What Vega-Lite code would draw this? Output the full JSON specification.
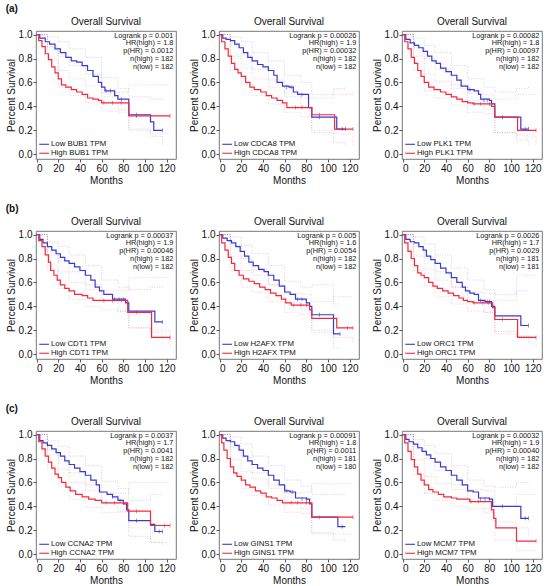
{
"$schema":"https://vega.github.io/schema/vega-lite/v6.json",
"padding":{"left":5,"top":4,"right":2,"bottom":2},
"config":{"font":"Liberation Sans","view":{"stroke":"#555","strokeWidth":0.8},
"mark":{"invalid":null},
"axis":{"labelFontSize":10,"titleFontSize":10,"titleFontWeight":"normal","labelColor":"#111","titleColor":"#111","tickColor":"#555","domain":false,"grid":false,"tickSize":3,"labelPadding":1,"titlePadding":2,"labelOverlap":false},
"title":{"fontSize":10,"fontWeight":"bold","anchor":"start","frame":"bounds","color":"#111","offset":2}},
"datasets":{"km":[
{"p":"a1","s":"L","k":"m","t":0,"v":1},{"p":"a1","s":"L","k":"m","t":3,"v":0.97},{"p":"a1","s":"L","k":"m","t":8,"v":0.94},{"p":"a1","s":"L","k":"m","t":12,"v":0.92},{"p":"a1","s":"L","k":"m","t":17,"v":0.88},{"p":"a1","s":"L","k":"m","t":22,"v":0.85},{"p":"a1","s":"L","k":"m","t":27,"v":0.81},{"p":"a1","s":"L","k":"m","t":32,"v":0.78},{"p":"a1","s":"L","k":"m","t":37,"v":0.77},{"p":"a1","s":"L","k":"m","t":42,"v":0.74},{"p":"a1","s":"L","k":"m","t":47,"v":0.7},{"p":"a1","s":"L","k":"m","t":52,"v":0.65},{"p":"a1","s":"L","k":"m","t":57,"v":0.6},{"p":"a1","s":"L","k":"m","t":60,"v":0.56},{"p":"a1","s":"L","k":"m","t":63,"v":0.53},{"p":"a1","s":"L","k":"m","t":72,"v":0.49},{"p":"a1","s":"L","k":"m","t":75,"v":0.46},{"p":"a1","s":"L","k":"m","t":85,"v":0.33},{"p":"a1","s":"L","k":"m","t":105,"v":0.27},{"p":"a1","s":"L","k":"m","t":108,"v":0.2},{"p":"a1","s":"L","k":"m","t":116,"v":0.2},
{"p":"a1","s":"H","k":"m","t":0,"v":1},{"p":"a1","s":"H","k":"m","t":2,"v":0.95},{"p":"a1","s":"H","k":"m","t":5,"v":0.9},{"p":"a1","s":"H","k":"m","t":8,"v":0.84},{"p":"a1","s":"H","k":"m","t":11,"v":0.79},{"p":"a1","s":"H","k":"m","t":14,"v":0.73},{"p":"a1","s":"H","k":"m","t":17,"v":0.68},{"p":"a1","s":"H","k":"m","t":20,"v":0.63},{"p":"a1","s":"H","k":"m","t":23,"v":0.58},{"p":"a1","s":"H","k":"m","t":27,"v":0.56},{"p":"a1","s":"H","k":"m","t":32,"v":0.54},{"p":"a1","s":"H","k":"m","t":37,"v":0.52},{"p":"a1","s":"H","k":"m","t":42,"v":0.5},{"p":"a1","s":"H","k":"m","t":47,"v":0.47},{"p":"a1","s":"H","k":"m","t":52,"v":0.46},{"p":"a1","s":"H","k":"m","t":57,"v":0.45},{"p":"a1","s":"H","k":"m","t":60,"v":0.43},{"p":"a1","s":"H","k":"m","t":85,"v":0.32},{"p":"a1","s":"H","k":"m","t":123,"v":0.32},
{"p":"a1","s":"L","k":"u","t":0,"v":1},{"p":"a1","s":"L","k":"u","t":10,"v":0.98},{"p":"a1","s":"L","k":"u","t":20,"v":0.94},{"p":"a1","s":"L","k":"u","t":30,"v":0.88},{"p":"a1","s":"L","k":"u","t":45,"v":0.81},{"p":"a1","s":"L","k":"u","t":60,"v":0.64},{"p":"a1","s":"L","k":"u","t":75,"v":0.55},{"p":"a1","s":"L","k":"u","t":85,"v":0.48},{"p":"a1","s":"L","k":"u","t":105,"v":0.46},{"p":"a1","s":"L","k":"u","t":116,"v":0.45},
{"p":"a1","s":"L","k":"l","t":0,"v":1},{"p":"a1","s":"L","k":"l","t":10,"v":0.9},{"p":"a1","s":"L","k":"l","t":20,"v":0.82},{"p":"a1","s":"L","k":"l","t":30,"v":0.74},{"p":"a1","s":"L","k":"l","t":45,"v":0.67},{"p":"a1","s":"L","k":"l","t":60,"v":0.48},{"p":"a1","s":"L","k":"l","t":75,"v":0.37},{"p":"a1","s":"L","k":"l","t":85,"v":0.21},{"p":"a1","s":"L","k":"l","t":105,"v":0.15},{"p":"a1","s":"L","k":"l","t":116,"v":0.08},
{"p":"a1","s":"H","k":"u","t":0,"v":1},{"p":"a1","s":"H","k":"u","t":10,"v":0.89},{"p":"a1","s":"H","k":"u","t":20,"v":0.7},{"p":"a1","s":"H","k":"u","t":30,"v":0.63},{"p":"a1","s":"H","k":"u","t":45,"v":0.57},{"p":"a1","s":"H","k":"u","t":60,"v":0.51},{"p":"a1","s":"H","k":"u","t":75,"v":0.52},{"p":"a1","s":"H","k":"u","t":85,"v":0.58},{"p":"a1","s":"H","k":"u","t":105,"v":0.58},{"p":"a1","s":"H","k":"u","t":123,"v":0.58},
{"p":"a1","s":"H","k":"l","t":0,"v":1},{"p":"a1","s":"H","k":"l","t":10,"v":0.79},{"p":"a1","s":"H","k":"l","t":20,"v":0.56},{"p":"a1","s":"H","k":"l","t":30,"v":0.49},{"p":"a1","s":"H","k":"l","t":45,"v":0.43},{"p":"a1","s":"H","k":"l","t":60,"v":0.36},{"p":"a1","s":"H","k":"l","t":75,"v":0.35},{"p":"a1","s":"H","k":"l","t":85,"v":0.2},{"p":"a1","s":"H","k":"l","t":105,"v":0.17},{"p":"a1","s":"H","k":"l","t":123,"v":0.17},
{"p":"a1","s":"L","k":"c","t":64,"v":0.53},{"p":"a1","s":"L","k":"c","t":68,"v":0.53},{"p":"a1","s":"L","k":"c","t":78,"v":0.46},{"p":"a1","s":"L","k":"c","t":92,"v":0.33},{"p":"a1","s":"L","k":"c","t":116,"v":0.2},
{"p":"a1","s":"H","k":"c","t":62,"v":0.43},{"p":"a1","s":"H","k":"c","t":70,"v":0.43},{"p":"a1","s":"H","k":"c","t":78,"v":0.43},{"p":"a1","s":"H","k":"c","t":92,"v":0.32},{"p":"a1","s":"H","k":"c","t":123,"v":0.32},
{"p":"a1","k":"txt","txt":"Logrank p = 0.001\nHR(high) = 1.8\np(HR) = 0.0012\nn(high) = 182\nn(low) = 182"},
{"p":"a1","s":"L","k":"leg","txt":"Low BUB1 TPM"},{"p":"a1","s":"H","k":"leg","txt":"High BUB1 TPM"},

{"p":"a2","s":"L","k":"m","t":0,"v":1},{"p":"a2","s":"L","k":"m","t":3,"v":0.97},{"p":"a2","s":"L","k":"m","t":6,"v":0.96},{"p":"a2","s":"L","k":"m","t":10,"v":0.95},{"p":"a2","s":"L","k":"m","t":14,"v":0.92},{"p":"a2","s":"L","k":"m","t":18,"v":0.89},{"p":"a2","s":"L","k":"m","t":22,"v":0.85},{"p":"a2","s":"L","k":"m","t":26,"v":0.81},{"p":"a2","s":"L","k":"m","t":30,"v":0.78},{"p":"a2","s":"L","k":"m","t":35,"v":0.75},{"p":"a2","s":"L","k":"m","t":40,"v":0.73},{"p":"a2","s":"L","k":"m","t":45,"v":0.7},{"p":"a2","s":"L","k":"m","t":50,"v":0.66},{"p":"a2","s":"L","k":"m","t":53,"v":0.6},{"p":"a2","s":"L","k":"m","t":58,"v":0.57},{"p":"a2","s":"L","k":"m","t":64,"v":0.56},{"p":"a2","s":"L","k":"m","t":68,"v":0.52},{"p":"a2","s":"L","k":"m","t":72,"v":0.5},{"p":"a2","s":"L","k":"m","t":82,"v":0.39},{"p":"a2","s":"L","k":"m","t":85,"v":0.31},{"p":"a2","s":"L","k":"m","t":108,"v":0.21},{"p":"a2","s":"L","k":"m","t":116,"v":0.21},
{"p":"a2","s":"H","k":"m","t":0,"v":1},{"p":"a2","s":"H","k":"m","t":2,"v":0.94},{"p":"a2","s":"H","k":"m","t":5,"v":0.88},{"p":"a2","s":"H","k":"m","t":8,"v":0.82},{"p":"a2","s":"H","k":"m","t":11,"v":0.76},{"p":"a2","s":"H","k":"m","t":14,"v":0.71},{"p":"a2","s":"H","k":"m","t":17,"v":0.68},{"p":"a2","s":"H","k":"m","t":20,"v":0.65},{"p":"a2","s":"H","k":"m","t":24,"v":0.6},{"p":"a2","s":"H","k":"m","t":28,"v":0.56},{"p":"a2","s":"H","k":"m","t":32,"v":0.54},{"p":"a2","s":"H","k":"m","t":38,"v":0.52},{"p":"a2","s":"H","k":"m","t":43,"v":0.49},{"p":"a2","s":"H","k":"m","t":48,"v":0.47},{"p":"a2","s":"H","k":"m","t":53,"v":0.45},{"p":"a2","s":"H","k":"m","t":58,"v":0.43},{"p":"a2","s":"H","k":"m","t":62,"v":0.39},{"p":"a2","s":"H","k":"m","t":85,"v":0.33},{"p":"a2","s":"H","k":"m","t":106,"v":0.21},{"p":"a2","s":"H","k":"m","t":123,"v":0.21},
{"p":"a2","s":"L","k":"u","t":0,"v":1},{"p":"a2","s":"L","k":"u","t":10,"v":0.98},{"p":"a2","s":"L","k":"u","t":20,"v":0.94},{"p":"a2","s":"L","k":"u","t":30,"v":0.85},{"p":"a2","s":"L","k":"u","t":45,"v":0.78},{"p":"a2","s":"L","k":"u","t":60,"v":0.66},{"p":"a2","s":"L","k":"u","t":75,"v":0.6},{"p":"a2","s":"L","k":"u","t":85,"v":0.5},{"p":"a2","s":"L","k":"u","t":105,"v":0.55},{"p":"a2","s":"L","k":"u","t":116,"v":0.56},
{"p":"a2","s":"L","k":"l","t":0,"v":1},{"p":"a2","s":"L","k":"l","t":10,"v":0.91},{"p":"a2","s":"L","k":"l","t":20,"v":0.83},{"p":"a2","s":"L","k":"l","t":30,"v":0.71},{"p":"a2","s":"L","k":"l","t":45,"v":0.62},{"p":"a2","s":"L","k":"l","t":60,"v":0.48},{"p":"a2","s":"L","k":"l","t":75,"v":0.4},{"p":"a2","s":"L","k":"l","t":85,"v":0.18},{"p":"a2","s":"L","k":"l","t":105,"v":0.1},{"p":"a2","s":"L","k":"l","t":116,"v":0.08},
{"p":"a2","s":"H","k":"u","t":0,"v":1},{"p":"a2","s":"H","k":"u","t":10,"v":0.82},{"p":"a2","s":"H","k":"u","t":20,"v":0.72},{"p":"a2","s":"H","k":"u","t":30,"v":0.63},{"p":"a2","s":"H","k":"u","t":45,"v":0.56},{"p":"a2","s":"H","k":"u","t":60,"v":0.51},{"p":"a2","s":"H","k":"u","t":75,"v":0.47},{"p":"a2","s":"H","k":"u","t":85,"v":0.47},{"p":"a2","s":"H","k":"u","t":105,"v":0.5},{"p":"a2","s":"H","k":"u","t":123,"v":0.54},
{"p":"a2","s":"H","k":"l","t":0,"v":1},{"p":"a2","s":"H","k":"l","t":10,"v":0.7},{"p":"a2","s":"H","k":"l","t":20,"v":0.58},{"p":"a2","s":"H","k":"l","t":30,"v":0.49},{"p":"a2","s":"H","k":"l","t":45,"v":0.42},{"p":"a2","s":"H","k":"l","t":60,"v":0.35},{"p":"a2","s":"H","k":"l","t":75,"v":0.31},{"p":"a2","s":"H","k":"l","t":85,"v":0.2},{"p":"a2","s":"H","k":"l","t":105,"v":0.17},{"p":"a2","s":"H","k":"l","t":123,"v":0.08},
{"p":"a2","s":"L","k":"c","t":62,"v":0.56},{"p":"a2","s":"L","k":"c","t":66,"v":0.56},{"p":"a2","s":"L","k":"c","t":76,"v":0.5},{"p":"a2","s":"L","k":"c","t":92,"v":0.31},{"p":"a2","s":"L","k":"c","t":113,"v":0.21},{"p":"a2","s":"L","k":"c","t":116,"v":0.21},
{"p":"a2","s":"H","k":"c","t":70,"v":0.39},{"p":"a2","s":"H","k":"c","t":76,"v":0.39},{"p":"a2","s":"H","k":"c","t":92,"v":0.33},{"p":"a2","s":"H","k":"c","t":123,"v":0.21},
{"p":"a2","k":"txt","txt":"Logrank p = 0.00026\nHR(high) = 1.9\np(HR) = 0.00032\nn(high) = 182\nn(low) = 182"},
{"p":"a2","s":"L","k":"leg","txt":"Low CDCA8 TPM"},{"p":"a2","s":"H","k":"leg","txt":"High CDCA8 TPM"},

{"p":"a3","s":"L","k":"m","t":0,"v":1},{"p":"a3","s":"L","k":"m","t":3,"v":0.96},{"p":"a3","s":"L","k":"m","t":7,"v":0.93},{"p":"a3","s":"L","k":"m","t":11,"v":0.91},{"p":"a3","s":"L","k":"m","t":15,"v":0.89},{"p":"a3","s":"L","k":"m","t":19,"v":0.86},{"p":"a3","s":"L","k":"m","t":23,"v":0.82},{"p":"a3","s":"L","k":"m","t":27,"v":0.78},{"p":"a3","s":"L","k":"m","t":31,"v":0.76},{"p":"a3","s":"L","k":"m","t":35,"v":0.72},{"p":"a3","s":"L","k":"m","t":40,"v":0.69},{"p":"a3","s":"L","k":"m","t":45,"v":0.66},{"p":"a3","s":"L","k":"m","t":50,"v":0.62},{"p":"a3","s":"L","k":"m","t":54,"v":0.57},{"p":"a3","s":"L","k":"m","t":60,"v":0.54},{"p":"a3","s":"L","k":"m","t":66,"v":0.53},{"p":"a3","s":"L","k":"m","t":70,"v":0.5},{"p":"a3","s":"L","k":"m","t":72,"v":0.46},{"p":"a3","s":"L","k":"m","t":80,"v":0.45},{"p":"a3","s":"L","k":"m","t":82,"v":0.42},{"p":"a3","s":"L","k":"m","t":85,"v":0.31},{"p":"a3","s":"L","k":"m","t":109,"v":0.21},{"p":"a3","s":"L","k":"m","t":116,"v":0.21},
{"p":"a3","s":"H","k":"m","t":0,"v":1},{"p":"a3","s":"H","k":"m","t":2,"v":0.94},{"p":"a3","s":"H","k":"m","t":5,"v":0.88},{"p":"a3","s":"H","k":"m","t":8,"v":0.81},{"p":"a3","s":"H","k":"m","t":11,"v":0.76},{"p":"a3","s":"H","k":"m","t":14,"v":0.7},{"p":"a3","s":"H","k":"m","t":17,"v":0.65},{"p":"a3","s":"H","k":"m","t":20,"v":0.6},{"p":"a3","s":"H","k":"m","t":24,"v":0.56},{"p":"a3","s":"H","k":"m","t":29,"v":0.54},{"p":"a3","s":"H","k":"m","t":35,"v":0.52},{"p":"a3","s":"H","k":"m","t":40,"v":0.5},{"p":"a3","s":"H","k":"m","t":45,"v":0.48},{"p":"a3","s":"H","k":"m","t":50,"v":0.46},{"p":"a3","s":"H","k":"m","t":55,"v":0.44},{"p":"a3","s":"H","k":"m","t":60,"v":0.43},{"p":"a3","s":"H","k":"m","t":65,"v":0.42},{"p":"a3","s":"H","k":"m","t":82,"v":0.4},{"p":"a3","s":"H","k":"m","t":85,"v":0.31},{"p":"a3","s":"H","k":"m","t":106,"v":0.2},{"p":"a3","s":"H","k":"m","t":123,"v":0.2},
{"p":"a3","s":"L","k":"u","t":0,"v":1},{"p":"a3","s":"L","k":"u","t":10,"v":0.97},{"p":"a3","s":"L","k":"u","t":20,"v":0.91},{"p":"a3","s":"L","k":"u","t":30,"v":0.85},{"p":"a3","s":"L","k":"u","t":45,"v":0.74},{"p":"a3","s":"L","k":"u","t":60,"v":0.63},{"p":"a3","s":"L","k":"u","t":75,"v":0.56},{"p":"a3","s":"L","k":"u","t":85,"v":0.52},{"p":"a3","s":"L","k":"u","t":105,"v":0.55},{"p":"a3","s":"L","k":"u","t":116,"v":0.57},
{"p":"a3","s":"L","k":"l","t":0,"v":1},{"p":"a3","s":"L","k":"l","t":10,"v":0.89},{"p":"a3","s":"L","k":"l","t":20,"v":0.8},{"p":"a3","s":"L","k":"l","t":30,"v":0.71},{"p":"a3","s":"L","k":"l","t":45,"v":0.58},{"p":"a3","s":"L","k":"l","t":60,"v":0.45},{"p":"a3","s":"L","k":"l","t":75,"v":0.37},{"p":"a3","s":"L","k":"l","t":85,"v":0.18},{"p":"a3","s":"L","k":"l","t":105,"v":0.12},{"p":"a3","s":"L","k":"l","t":116,"v":0.08},
{"p":"a3","s":"H","k":"u","t":0,"v":1},{"p":"a3","s":"H","k":"u","t":10,"v":0.82},{"p":"a3","s":"H","k":"u","t":20,"v":0.67},{"p":"a3","s":"H","k":"u","t":30,"v":0.61},{"p":"a3","s":"H","k":"u","t":45,"v":0.55},{"p":"a3","s":"H","k":"u","t":60,"v":0.51},{"p":"a3","s":"H","k":"u","t":75,"v":0.5},{"p":"a3","s":"H","k":"u","t":85,"v":0.46},{"p":"a3","s":"H","k":"u","t":105,"v":0.5},{"p":"a3","s":"H","k":"u","t":123,"v":0.52},
{"p":"a3","s":"H","k":"l","t":0,"v":1},{"p":"a3","s":"H","k":"l","t":10,"v":0.7},{"p":"a3","s":"H","k":"l","t":20,"v":0.53},{"p":"a3","s":"H","k":"l","t":30,"v":0.47},{"p":"a3","s":"H","k":"l","t":45,"v":0.41},{"p":"a3","s":"H","k":"l","t":60,"v":0.35},{"p":"a3","s":"H","k":"l","t":75,"v":0.34},{"p":"a3","s":"H","k":"l","t":85,"v":0.18},{"p":"a3","s":"H","k":"l","t":105,"v":0.16},{"p":"a3","s":"H","k":"l","t":123,"v":0.08},
{"p":"a3","s":"L","k":"c","t":62,"v":0.54},{"p":"a3","s":"L","k":"c","t":75,"v":0.45},{"p":"a3","s":"L","k":"c","t":78,"v":0.45},{"p":"a3","s":"L","k":"c","t":92,"v":0.31},{"p":"a3","s":"L","k":"c","t":113,"v":0.21},{"p":"a3","s":"L","k":"c","t":116,"v":0.21},
{"p":"a3","s":"H","k":"c","t":66,"v":0.42},{"p":"a3","s":"H","k":"c","t":72,"v":0.42},{"p":"a3","s":"H","k":"c","t":80,"v":0.42},{"p":"a3","s":"H","k":"c","t":123,"v":0.2},
{"p":"a3","k":"txt","txt":"Logrank p = 0.00082\nHR(high) = 1.8\np(HR) = 0.00097\nn(high) = 182\nn(low) = 182"},
{"p":"a3","s":"L","k":"leg","txt":"Low PLK1 TPM"},{"p":"a3","s":"H","k":"leg","txt":"High PLK1 TPM"},

{"p":"b1","s":"L","k":"m","t":0,"v":1},{"p":"b1","s":"L","k":"m","t":3,"v":0.96},{"p":"b1","s":"L","k":"m","t":6,"v":0.93},{"p":"b1","s":"L","k":"m","t":10,"v":0.9},{"p":"b1","s":"L","k":"m","t":14,"v":0.87},{"p":"b1","s":"L","k":"m","t":18,"v":0.84},{"p":"b1","s":"L","k":"m","t":22,"v":0.81},{"p":"b1","s":"L","k":"m","t":26,"v":0.78},{"p":"b1","s":"L","k":"m","t":30,"v":0.76},{"p":"b1","s":"L","k":"m","t":35,"v":0.73},{"p":"b1","s":"L","k":"m","t":40,"v":0.7},{"p":"b1","s":"L","k":"m","t":45,"v":0.66},{"p":"b1","s":"L","k":"m","t":50,"v":0.62},{"p":"b1","s":"L","k":"m","t":54,"v":0.56},{"p":"b1","s":"L","k":"m","t":58,"v":0.53},{"p":"b1","s":"L","k":"m","t":62,"v":0.5},{"p":"b1","s":"L","k":"m","t":70,"v":0.46},{"p":"b1","s":"L","k":"m","t":82,"v":0.43},{"p":"b1","s":"L","k":"m","t":85,"v":0.36},{"p":"b1","s":"L","k":"m","t":109,"v":0.27},{"p":"b1","s":"L","k":"m","t":116,"v":0.27},
{"p":"b1","s":"H","k":"m","t":0,"v":1},{"p":"b1","s":"H","k":"m","t":2,"v":0.95},{"p":"b1","s":"H","k":"m","t":5,"v":0.9},{"p":"b1","s":"H","k":"m","t":8,"v":0.83},{"p":"b1","s":"H","k":"m","t":11,"v":0.77},{"p":"b1","s":"H","k":"m","t":13,"v":0.7},{"p":"b1","s":"H","k":"m","t":16,"v":0.66},{"p":"b1","s":"H","k":"m","t":19,"v":0.62},{"p":"b1","s":"H","k":"m","t":22,"v":0.58},{"p":"b1","s":"H","k":"m","t":26,"v":0.55},{"p":"b1","s":"H","k":"m","t":30,"v":0.53},{"p":"b1","s":"H","k":"m","t":35,"v":0.5},{"p":"b1","s":"H","k":"m","t":42,"v":0.49},{"p":"b1","s":"H","k":"m","t":47,"v":0.47},{"p":"b1","s":"H","k":"m","t":52,"v":0.45},{"p":"b1","s":"H","k":"m","t":84,"v":0.35},{"p":"b1","s":"H","k":"m","t":106,"v":0.14},{"p":"b1","s":"H","k":"m","t":123,"v":0.14},
{"p":"b1","s":"L","k":"u","t":0,"v":1},{"p":"b1","s":"L","k":"u","t":10,"v":0.94},{"p":"b1","s":"L","k":"u","t":20,"v":0.9},{"p":"b1","s":"L","k":"u","t":30,"v":0.83},{"p":"b1","s":"L","k":"u","t":45,"v":0.74},{"p":"b1","s":"L","k":"u","t":60,"v":0.62},{"p":"b1","s":"L","k":"u","t":75,"v":0.56},{"p":"b1","s":"L","k":"u","t":85,"v":0.54},{"p":"b1","s":"L","k":"u","t":105,"v":0.56},{"p":"b1","s":"L","k":"u","t":116,"v":0.55},
{"p":"b1","s":"L","k":"l","t":0,"v":1},{"p":"b1","s":"L","k":"l","t":10,"v":0.86},{"p":"b1","s":"L","k":"l","t":20,"v":0.78},{"p":"b1","s":"L","k":"l","t":30,"v":0.69},{"p":"b1","s":"L","k":"l","t":45,"v":0.58},{"p":"b1","s":"L","k":"l","t":60,"v":0.44},{"p":"b1","s":"L","k":"l","t":75,"v":0.36},{"p":"b1","s":"L","k":"l","t":85,"v":0.22},{"p":"b1","s":"L","k":"l","t":105,"v":0.18},{"p":"b1","s":"L","k":"l","t":116,"v":0.13},
{"p":"b1","s":"H","k":"u","t":0,"v":1},{"p":"b1","s":"H","k":"u","t":10,"v":0.83},{"p":"b1","s":"H","k":"u","t":20,"v":0.69},{"p":"b1","s":"H","k":"u","t":30,"v":0.6},{"p":"b1","s":"H","k":"u","t":45,"v":0.54},{"p":"b1","s":"H","k":"u","t":60,"v":0.53},{"p":"b1","s":"H","k":"u","t":75,"v":0.53},{"p":"b1","s":"H","k":"u","t":85,"v":0.64},{"p":"b1","s":"H","k":"u","t":105,"v":0.64},{"p":"b1","s":"H","k":"u","t":123,"v":0.64},
{"p":"b1","s":"H","k":"l","t":0,"v":1},{"p":"b1","s":"H","k":"l","t":10,"v":0.71},{"p":"b1","s":"H","k":"l","t":20,"v":0.55},{"p":"b1","s":"H","k":"l","t":30,"v":0.46},{"p":"b1","s":"H","k":"l","t":45,"v":0.4},{"p":"b1","s":"H","k":"l","t":60,"v":0.37},{"p":"b1","s":"H","k":"l","t":75,"v":0.36},{"p":"b1","s":"H","k":"l","t":85,"v":0.22},{"p":"b1","s":"H","k":"l","t":105,"v":0.2},{"p":"b1","s":"H","k":"l","t":123,"v":0.05},
{"p":"b1","s":"L","k":"c","t":72,"v":0.46},{"p":"b1","s":"L","k":"c","t":76,"v":0.46},{"p":"b1","s":"L","k":"c","t":80,"v":0.46},{"p":"b1","s":"L","k":"c","t":116,"v":0.27},
{"p":"b1","s":"H","k":"c","t":62,"v":0.45},{"p":"b1","s":"H","k":"c","t":70,"v":0.45},{"p":"b1","s":"H","k":"c","t":78,"v":0.45},{"p":"b1","s":"H","k":"c","t":92,"v":0.35},{"p":"b1","s":"H","k":"c","t":123,"v":0.14},
{"p":"b1","k":"txt","txt":"Logrank p = 0.00037\nHR(high) = 1.9\np(HR) = 0.00046\nn(high) = 182\nn(low) = 182"},
{"p":"b1","s":"L","k":"leg","txt":"Low CDT1 TPM"},{"p":"b1","s":"H","k":"leg","txt":"High CDT1 TPM"},

{"p":"b2","s":"L","k":"m","t":0,"v":1},{"p":"b2","s":"L","k":"m","t":3,"v":0.97},{"p":"b2","s":"L","k":"m","t":7,"v":0.95},{"p":"b2","s":"L","k":"m","t":11,"v":0.93},{"p":"b2","s":"L","k":"m","t":15,"v":0.9},{"p":"b2","s":"L","k":"m","t":19,"v":0.86},{"p":"b2","s":"L","k":"m","t":23,"v":0.82},{"p":"b2","s":"L","k":"m","t":27,"v":0.77},{"p":"b2","s":"L","k":"m","t":31,"v":0.74},{"p":"b2","s":"L","k":"m","t":36,"v":0.71},{"p":"b2","s":"L","k":"m","t":41,"v":0.69},{"p":"b2","s":"L","k":"m","t":45,"v":0.66},{"p":"b2","s":"L","k":"m","t":50,"v":0.62},{"p":"b2","s":"L","k":"m","t":55,"v":0.57},{"p":"b2","s":"L","k":"m","t":60,"v":0.52},{"p":"b2","s":"L","k":"m","t":65,"v":0.5},{"p":"b2","s":"L","k":"m","t":70,"v":0.46},{"p":"b2","s":"L","k":"m","t":80,"v":0.43},{"p":"b2","s":"L","k":"m","t":83,"v":0.4},{"p":"b2","s":"L","k":"m","t":85,"v":0.33},{"p":"b2","s":"L","k":"m","t":105,"v":0.17},{"p":"b2","s":"L","k":"m","t":111,"v":0.17},
{"p":"b2","s":"H","k":"m","t":0,"v":1},{"p":"b2","s":"H","k":"m","t":2,"v":0.93},{"p":"b2","s":"H","k":"m","t":5,"v":0.87},{"p":"b2","s":"H","k":"m","t":8,"v":0.81},{"p":"b2","s":"H","k":"m","t":11,"v":0.76},{"p":"b2","s":"H","k":"m","t":14,"v":0.7},{"p":"b2","s":"H","k":"m","t":18,"v":0.66},{"p":"b2","s":"H","k":"m","t":22,"v":0.63},{"p":"b2","s":"H","k":"m","t":27,"v":0.61},{"p":"b2","s":"H","k":"m","t":32,"v":0.59},{"p":"b2","s":"H","k":"m","t":37,"v":0.56},{"p":"b2","s":"H","k":"m","t":42,"v":0.54},{"p":"b2","s":"H","k":"m","t":47,"v":0.51},{"p":"b2","s":"H","k":"m","t":52,"v":0.49},{"p":"b2","s":"H","k":"m","t":57,"v":0.46},{"p":"b2","s":"H","k":"m","t":61,"v":0.43},{"p":"b2","s":"H","k":"m","t":66,"v":0.41},{"p":"b2","s":"H","k":"m","t":83,"v":0.37},{"p":"b2","s":"H","k":"m","t":85,"v":0.3},{"p":"b2","s":"H","k":"m","t":108,"v":0.22},{"p":"b2","s":"H","k":"m","t":123,"v":0.22},
{"p":"b2","s":"L","k":"u","t":0,"v":1},{"p":"b2","s":"L","k":"u","t":10,"v":0.98},{"p":"b2","s":"L","k":"u","t":20,"v":0.91},{"p":"b2","s":"L","k":"u","t":30,"v":0.84},{"p":"b2","s":"L","k":"u","t":45,"v":0.74},{"p":"b2","s":"L","k":"u","t":60,"v":0.61},{"p":"b2","s":"L","k":"u","t":75,"v":0.56},{"p":"b2","s":"L","k":"u","t":85,"v":0.58},{"p":"b2","s":"L","k":"u","t":105,"v":0.42},{"p":"b2","s":"L","k":"u","t":111,"v":0.42},
{"p":"b2","s":"L","k":"l","t":0,"v":1},{"p":"b2","s":"L","k":"l","t":10,"v":0.91},{"p":"b2","s":"L","k":"l","t":20,"v":0.8},{"p":"b2","s":"L","k":"l","t":30,"v":0.7},{"p":"b2","s":"L","k":"l","t":45,"v":0.58},{"p":"b2","s":"L","k":"l","t":60,"v":0.43},{"p":"b2","s":"L","k":"l","t":75,"v":0.37},{"p":"b2","s":"L","k":"l","t":85,"v":0.2},{"p":"b2","s":"L","k":"l","t":105,"v":0.05},{"p":"b2","s":"L","k":"l","t":111,"v":0.05},
{"p":"b2","s":"H","k":"u","t":0,"v":1},{"p":"b2","s":"H","k":"u","t":10,"v":0.82},{"p":"b2","s":"H","k":"u","t":20,"v":0.7},{"p":"b2","s":"H","k":"u","t":30,"v":0.66},{"p":"b2","s":"H","k":"u","t":45,"v":0.58},{"p":"b2","s":"H","k":"u","t":60,"v":0.51},{"p":"b2","s":"H","k":"u","t":75,"v":0.5},{"p":"b2","s":"H","k":"u","t":85,"v":0.44},{"p":"b2","s":"H","k":"u","t":105,"v":0.48},{"p":"b2","s":"H","k":"u","t":123,"v":0.48},
{"p":"b2","s":"H","k":"l","t":0,"v":1},{"p":"b2","s":"H","k":"l","t":10,"v":0.7},{"p":"b2","s":"H","k":"l","t":20,"v":0.56},{"p":"b2","s":"H","k":"l","t":30,"v":0.52},{"p":"b2","s":"H","k":"l","t":45,"v":0.44},{"p":"b2","s":"H","k":"l","t":60,"v":0.35},{"p":"b2","s":"H","k":"l","t":75,"v":0.33},{"p":"b2","s":"H","k":"l","t":85,"v":0.18},{"p":"b2","s":"H","k":"l","t":105,"v":0.14},{"p":"b2","s":"H","k":"l","t":123,"v":0.1},
{"p":"b2","s":"L","k":"c","t":72,"v":0.46},{"p":"b2","s":"L","k":"c","t":76,"v":0.46},{"p":"b2","s":"L","k":"c","t":92,"v":0.33},{"p":"b2","s":"L","k":"c","t":111,"v":0.17},
{"p":"b2","s":"H","k":"c","t":68,"v":0.41},{"p":"b2","s":"H","k":"c","t":75,"v":0.41},{"p":"b2","s":"H","k":"c","t":80,"v":0.41},{"p":"b2","s":"H","k":"c","t":118,"v":0.22},{"p":"b2","s":"H","k":"c","t":123,"v":0.22},
{"p":"b2","k":"txt","txt":"Logrank p = 0.005\nHR(high) = 1.6\np(HR) = 0.0054\nn(high) = 182\nn(low) = 182"},
{"p":"b2","s":"L","k":"leg","txt":"Low H2AFX TPM"},{"p":"b2","s":"H","k":"leg","txt":"High H2AFX TPM"},

{"p":"b3","s":"L","k":"m","t":0,"v":1},{"p":"b3","s":"L","k":"m","t":3,"v":0.96},{"p":"b3","s":"L","k":"m","t":7,"v":0.94},{"p":"b3","s":"L","k":"m","t":11,"v":0.93},{"p":"b3","s":"L","k":"m","t":15,"v":0.9},{"p":"b3","s":"L","k":"m","t":19,"v":0.87},{"p":"b3","s":"L","k":"m","t":22,"v":0.82},{"p":"b3","s":"L","k":"m","t":26,"v":0.79},{"p":"b3","s":"L","k":"m","t":30,"v":0.76},{"p":"b3","s":"L","k":"m","t":35,"v":0.72},{"p":"b3","s":"L","k":"m","t":40,"v":0.68},{"p":"b3","s":"L","k":"m","t":45,"v":0.64},{"p":"b3","s":"L","k":"m","t":50,"v":0.6},{"p":"b3","s":"L","k":"m","t":55,"v":0.56},{"p":"b3","s":"L","k":"m","t":58,"v":0.53},{"p":"b3","s":"L","k":"m","t":62,"v":0.51},{"p":"b3","s":"L","k":"m","t":66,"v":0.5},{"p":"b3","s":"L","k":"m","t":70,"v":0.45},{"p":"b3","s":"L","k":"m","t":76,"v":0.44},{"p":"b3","s":"L","k":"m","t":82,"v":0.4},{"p":"b3","s":"L","k":"m","t":85,"v":0.32},{"p":"b3","s":"L","k":"m","t":109,"v":0.24},{"p":"b3","s":"L","k":"m","t":116,"v":0.24},
{"p":"b3","s":"H","k":"m","t":0,"v":1},{"p":"b3","s":"H","k":"m","t":2,"v":0.93},{"p":"b3","s":"H","k":"m","t":5,"v":0.86},{"p":"b3","s":"H","k":"m","t":8,"v":0.8},{"p":"b3","s":"H","k":"m","t":11,"v":0.74},{"p":"b3","s":"H","k":"m","t":14,"v":0.68},{"p":"b3","s":"H","k":"m","t":17,"v":0.66},{"p":"b3","s":"H","k":"m","t":20,"v":0.64},{"p":"b3","s":"H","k":"m","t":24,"v":0.6},{"p":"b3","s":"H","k":"m","t":28,"v":0.57},{"p":"b3","s":"H","k":"m","t":32,"v":0.55},{"p":"b3","s":"H","k":"m","t":37,"v":0.53},{"p":"b3","s":"H","k":"m","t":42,"v":0.51},{"p":"b3","s":"H","k":"m","t":47,"v":0.49},{"p":"b3","s":"H","k":"m","t":52,"v":0.47},{"p":"b3","s":"H","k":"m","t":56,"v":0.45},{"p":"b3","s":"H","k":"m","t":60,"v":0.44},{"p":"b3","s":"H","k":"m","t":65,"v":0.43},{"p":"b3","s":"H","k":"m","t":83,"v":0.39},{"p":"b3","s":"H","k":"m","t":85,"v":0.29},{"p":"b3","s":"H","k":"m","t":106,"v":0.14},{"p":"b3","s":"H","k":"m","t":123,"v":0.14},
{"p":"b3","s":"L","k":"u","t":0,"v":1},{"p":"b3","s":"L","k":"u","t":10,"v":0.98},{"p":"b3","s":"L","k":"u","t":20,"v":0.92},{"p":"b3","s":"L","k":"u","t":30,"v":0.83},{"p":"b3","s":"L","k":"u","t":45,"v":0.72},{"p":"b3","s":"L","k":"u","t":60,"v":0.62},{"p":"b3","s":"L","k":"u","t":75,"v":0.54},{"p":"b3","s":"L","k":"u","t":85,"v":0.5},{"p":"b3","s":"L","k":"u","t":105,"v":0.53},{"p":"b3","s":"L","k":"u","t":116,"v":0.53},
{"p":"b3","s":"L","k":"l","t":0,"v":1},{"p":"b3","s":"L","k":"l","t":10,"v":0.9},{"p":"b3","s":"L","k":"l","t":20,"v":0.81},{"p":"b3","s":"L","k":"l","t":30,"v":0.69},{"p":"b3","s":"L","k":"l","t":45,"v":0.56},{"p":"b3","s":"L","k":"l","t":60,"v":0.44},{"p":"b3","s":"L","k":"l","t":75,"v":0.35},{"p":"b3","s":"L","k":"l","t":85,"v":0.19},{"p":"b3","s":"L","k":"l","t":105,"v":0.15},{"p":"b3","s":"L","k":"l","t":116,"v":0.1},
{"p":"b3","s":"H","k":"u","t":0,"v":1},{"p":"b3","s":"H","k":"u","t":10,"v":0.82},{"p":"b3","s":"H","k":"u","t":20,"v":0.71},{"p":"b3","s":"H","k":"u","t":30,"v":0.62},{"p":"b3","s":"H","k":"u","t":45,"v":0.56},{"p":"b3","s":"H","k":"u","t":60,"v":0.52},{"p":"b3","s":"H","k":"u","t":75,"v":0.51},{"p":"b3","s":"H","k":"u","t":85,"v":0.45},{"p":"b3","s":"H","k":"u","t":105,"v":0.66},{"p":"b3","s":"H","k":"u","t":123,"v":0.66},
{"p":"b3","s":"H","k":"l","t":0,"v":1},{"p":"b3","s":"H","k":"l","t":10,"v":0.7},{"p":"b3","s":"H","k":"l","t":20,"v":0.57},{"p":"b3","s":"H","k":"l","t":30,"v":0.48},{"p":"b3","s":"H","k":"l","t":45,"v":0.42},{"p":"b3","s":"H","k":"l","t":60,"v":0.36},{"p":"b3","s":"H","k":"l","t":75,"v":0.35},{"p":"b3","s":"H","k":"l","t":85,"v":0.17},{"p":"b3","s":"H","k":"l","t":105,"v":0.15},{"p":"b3","s":"H","k":"l","t":123,"v":0.05},
{"p":"b3","s":"L","k":"c","t":72,"v":0.45},{"p":"b3","s":"L","k":"c","t":78,"v":0.44},{"p":"b3","s":"L","k":"c","t":80,"v":0.44},{"p":"b3","s":"L","k":"c","t":116,"v":0.24},
{"p":"b3","s":"H","k":"c","t":66,"v":0.43},{"p":"b3","s":"H","k":"c","t":74,"v":0.43},{"p":"b3","s":"H","k":"c","t":79,"v":0.43},{"p":"b3","s":"H","k":"c","t":92,"v":0.29},{"p":"b3","s":"H","k":"c","t":123,"v":0.14},
{"p":"b3","k":"txt","txt":"Logrank p = 0.0026\nHR(high) = 1.7\np(HR) = 0.0029\nn(high) = 181\nn(low) = 181"},
{"p":"b3","s":"L","k":"leg","txt":"Low ORC1 TPM"},{"p":"b3","s":"H","k":"leg","txt":"High ORC1 TPM"},

{"p":"c1","s":"L","k":"m","t":0,"v":1},{"p":"c1","s":"L","k":"m","t":3,"v":0.95},{"p":"c1","s":"L","k":"m","t":6,"v":0.93},{"p":"c1","s":"L","k":"m","t":10,"v":0.91},{"p":"c1","s":"L","k":"m","t":14,"v":0.88},{"p":"c1","s":"L","k":"m","t":18,"v":0.85},{"p":"c1","s":"L","k":"m","t":22,"v":0.82},{"p":"c1","s":"L","k":"m","t":26,"v":0.78},{"p":"c1","s":"L","k":"m","t":30,"v":0.75},{"p":"c1","s":"L","k":"m","t":35,"v":0.72},{"p":"c1","s":"L","k":"m","t":40,"v":0.69},{"p":"c1","s":"L","k":"m","t":45,"v":0.66},{"p":"c1","s":"L","k":"m","t":50,"v":0.62},{"p":"c1","s":"L","k":"m","t":55,"v":0.58},{"p":"c1","s":"L","k":"m","t":58,"v":0.52},{"p":"c1","s":"L","k":"m","t":65,"v":0.5},{"p":"c1","s":"L","k":"m","t":70,"v":0.48},{"p":"c1","s":"L","k":"m","t":75,"v":0.45},{"p":"c1","s":"L","k":"m","t":80,"v":0.42},{"p":"c1","s":"L","k":"m","t":83,"v":0.37},{"p":"c1","s":"L","k":"m","t":85,"v":0.28},{"p":"c1","s":"L","k":"m","t":105,"v":0.25},{"p":"c1","s":"L","k":"m","t":109,"v":0.19},{"p":"c1","s":"L","k":"m","t":116,"v":0.19},
{"p":"c1","s":"H","k":"m","t":0,"v":1},{"p":"c1","s":"H","k":"m","t":2,"v":0.94},{"p":"c1","s":"H","k":"m","t":5,"v":0.88},{"p":"c1","s":"H","k":"m","t":8,"v":0.82},{"p":"c1","s":"H","k":"m","t":11,"v":0.77},{"p":"c1","s":"H","k":"m","t":14,"v":0.72},{"p":"c1","s":"H","k":"m","t":17,"v":0.67},{"p":"c1","s":"H","k":"m","t":20,"v":0.64},{"p":"c1","s":"H","k":"m","t":23,"v":0.6},{"p":"c1","s":"H","k":"m","t":27,"v":0.56},{"p":"c1","s":"H","k":"m","t":31,"v":0.53},{"p":"c1","s":"H","k":"m","t":36,"v":0.5},{"p":"c1","s":"H","k":"m","t":42,"v":0.48},{"p":"c1","s":"H","k":"m","t":48,"v":0.46},{"p":"c1","s":"H","k":"m","t":54,"v":0.45},{"p":"c1","s":"H","k":"m","t":60,"v":0.43},{"p":"c1","s":"H","k":"m","t":84,"v":0.36},{"p":"c1","s":"H","k":"m","t":105,"v":0.24},{"p":"c1","s":"H","k":"m","t":123,"v":0.24},
{"p":"c1","s":"L","k":"u","t":0,"v":1},{"p":"c1","s":"L","k":"u","t":10,"v":0.95},{"p":"c1","s":"L","k":"u","t":20,"v":0.9},{"p":"c1","s":"L","k":"u","t":30,"v":0.82},{"p":"c1","s":"L","k":"u","t":45,"v":0.74},{"p":"c1","s":"L","k":"u","t":60,"v":0.61},{"p":"c1","s":"L","k":"u","t":75,"v":0.55},{"p":"c1","s":"L","k":"u","t":85,"v":0.45},{"p":"c1","s":"L","k":"u","t":105,"v":0.5},{"p":"c1","s":"L","k":"u","t":116,"v":0.5},
{"p":"c1","s":"L","k":"l","t":0,"v":1},{"p":"c1","s":"L","k":"l","t":10,"v":0.87},{"p":"c1","s":"L","k":"l","t":20,"v":0.79},{"p":"c1","s":"L","k":"l","t":30,"v":0.68},{"p":"c1","s":"L","k":"l","t":45,"v":0.58},{"p":"c1","s":"L","k":"l","t":60,"v":0.43},{"p":"c1","s":"L","k":"l","t":75,"v":0.36},{"p":"c1","s":"L","k":"l","t":85,"v":0.15},{"p":"c1","s":"L","k":"l","t":105,"v":0.1},{"p":"c1","s":"L","k":"l","t":116,"v":0.08},
{"p":"c1","s":"H","k":"u","t":0,"v":1},{"p":"c1","s":"H","k":"u","t":10,"v":0.83},{"p":"c1","s":"H","k":"u","t":20,"v":0.71},{"p":"c1","s":"H","k":"u","t":30,"v":0.6},{"p":"c1","s":"H","k":"u","t":45,"v":0.53},{"p":"c1","s":"H","k":"u","t":60,"v":0.51},{"p":"c1","s":"H","k":"u","t":75,"v":0.51},{"p":"c1","s":"H","k":"u","t":85,"v":0.6},{"p":"c1","s":"H","k":"u","t":105,"v":0.6},{"p":"c1","s":"H","k":"u","t":123,"v":0.6},
{"p":"c1","s":"H","k":"l","t":0,"v":1},{"p":"c1","s":"H","k":"l","t":10,"v":0.71},{"p":"c1","s":"H","k":"l","t":20,"v":0.57},{"p":"c1","s":"H","k":"l","t":30,"v":0.46},{"p":"c1","s":"H","k":"l","t":45,"v":0.39},{"p":"c1","s":"H","k":"l","t":60,"v":0.35},{"p":"c1","s":"H","k":"l","t":75,"v":0.35},{"p":"c1","s":"H","k":"l","t":85,"v":0.22},{"p":"c1","s":"H","k":"l","t":105,"v":0.1},{"p":"c1","s":"H","k":"l","t":123,"v":0.1},
{"p":"c1","s":"L","k":"c","t":70,"v":0.48},{"p":"c1","s":"L","k":"c","t":77,"v":0.45},{"p":"c1","s":"L","k":"c","t":92,"v":0.28},{"p":"c1","s":"L","k":"c","t":113,"v":0.19},{"p":"c1","s":"L","k":"c","t":116,"v":0.19},
{"p":"c1","s":"H","k":"c","t":64,"v":0.43},{"p":"c1","s":"H","k":"c","t":72,"v":0.43},{"p":"c1","s":"H","k":"c","t":80,"v":0.43},{"p":"c1","s":"H","k":"c","t":92,"v":0.36},{"p":"c1","s":"H","k":"c","t":118,"v":0.24},{"p":"c1","s":"H","k":"c","t":123,"v":0.24},
{"p":"c1","k":"txt","txt":"Logrank p = 0.0037\nHR(high) = 1.7\np(HR) = 0.0041\nn(high) = 182\nn(low) = 182"},
{"p":"c1","s":"L","k":"leg","txt":"Low CCNA2 TPM"},{"p":"c1","s":"H","k":"leg","txt":"High CCNA2 TPM"},

{"p":"c2","s":"L","k":"m","t":0,"v":1},{"p":"c2","s":"L","k":"m","t":3,"v":0.97},{"p":"c2","s":"L","k":"m","t":6,"v":0.95},{"p":"c2","s":"L","k":"m","t":10,"v":0.94},{"p":"c2","s":"L","k":"m","t":14,"v":0.91},{"p":"c2","s":"L","k":"m","t":18,"v":0.87},{"p":"c2","s":"L","k":"m","t":22,"v":0.82},{"p":"c2","s":"L","k":"m","t":26,"v":0.78},{"p":"c2","s":"L","k":"m","t":30,"v":0.75},{"p":"c2","s":"L","k":"m","t":35,"v":0.72},{"p":"c2","s":"L","k":"m","t":40,"v":0.7},{"p":"c2","s":"L","k":"m","t":45,"v":0.66},{"p":"c2","s":"L","k":"m","t":50,"v":0.62},{"p":"c2","s":"L","k":"m","t":55,"v":0.58},{"p":"c2","s":"L","k":"m","t":60,"v":0.53},{"p":"c2","s":"L","k":"m","t":65,"v":0.52},{"p":"c2","s":"L","k":"m","t":70,"v":0.47},{"p":"c2","s":"L","k":"m","t":80,"v":0.46},{"p":"c2","s":"L","k":"m","t":83,"v":0.42},{"p":"c2","s":"L","k":"m","t":85,"v":0.31},{"p":"c2","s":"L","k":"m","t":109,"v":0.23},{"p":"c2","s":"L","k":"m","t":116,"v":0.23},
{"p":"c2","s":"H","k":"m","t":0,"v":1},{"p":"c2","s":"H","k":"m","t":2,"v":0.93},{"p":"c2","s":"H","k":"m","t":4,"v":0.87},{"p":"c2","s":"H","k":"m","t":7,"v":0.8},{"p":"c2","s":"H","k":"m","t":10,"v":0.73},{"p":"c2","s":"H","k":"m","t":13,"v":0.68},{"p":"c2","s":"H","k":"m","t":16,"v":0.65},{"p":"c2","s":"H","k":"m","t":20,"v":0.62},{"p":"c2","s":"H","k":"m","t":24,"v":0.58},{"p":"c2","s":"H","k":"m","t":28,"v":0.56},{"p":"c2","s":"H","k":"m","t":33,"v":0.53},{"p":"c2","s":"H","k":"m","t":38,"v":0.51},{"p":"c2","s":"H","k":"m","t":43,"v":0.48},{"p":"c2","s":"H","k":"m","t":48,"v":0.47},{"p":"c2","s":"H","k":"m","t":53,"v":0.45},{"p":"c2","s":"H","k":"m","t":58,"v":0.43},{"p":"c2","s":"H","k":"m","t":85,"v":0.31},{"p":"c2","s":"H","k":"m","t":123,"v":0.31},
{"p":"c2","s":"L","k":"u","t":0,"v":1},{"p":"c2","s":"L","k":"u","t":10,"v":0.98},{"p":"c2","s":"L","k":"u","t":20,"v":0.92},{"p":"c2","s":"L","k":"u","t":30,"v":0.82},{"p":"c2","s":"L","k":"u","t":45,"v":0.74},{"p":"c2","s":"L","k":"u","t":60,"v":0.62},{"p":"c2","s":"L","k":"u","t":75,"v":0.57},{"p":"c2","s":"L","k":"u","t":85,"v":0.5},{"p":"c2","s":"L","k":"u","t":105,"v":0.5},{"p":"c2","s":"L","k":"u","t":116,"v":0.5},
{"p":"c2","s":"L","k":"l","t":0,"v":1},{"p":"c2","s":"L","k":"l","t":10,"v":0.9},{"p":"c2","s":"L","k":"l","t":20,"v":0.81},{"p":"c2","s":"L","k":"l","t":30,"v":0.68},{"p":"c2","s":"L","k":"l","t":45,"v":0.58},{"p":"c2","s":"L","k":"l","t":60,"v":0.44},{"p":"c2","s":"L","k":"l","t":75,"v":0.38},{"p":"c2","s":"L","k":"l","t":85,"v":0.18},{"p":"c2","s":"L","k":"l","t":105,"v":0.12},{"p":"c2","s":"L","k":"l","t":116,"v":0.1},
{"p":"c2","s":"H","k":"u","t":0,"v":1},{"p":"c2","s":"H","k":"u","t":10,"v":0.79},{"p":"c2","s":"H","k":"u","t":20,"v":0.69},{"p":"c2","s":"H","k":"u","t":30,"v":0.63},{"p":"c2","s":"H","k":"u","t":45,"v":0.55},{"p":"c2","s":"H","k":"u","t":60,"v":0.51},{"p":"c2","s":"H","k":"u","t":75,"v":0.52},{"p":"c2","s":"H","k":"u","t":85,"v":0.59},{"p":"c2","s":"H","k":"u","t":105,"v":0.59},{"p":"c2","s":"H","k":"u","t":123,"v":0.59},
{"p":"c2","s":"H","k":"l","t":0,"v":1},{"p":"c2","s":"H","k":"l","t":10,"v":0.67},{"p":"c2","s":"H","k":"l","t":20,"v":0.55},{"p":"c2","s":"H","k":"l","t":30,"v":0.49},{"p":"c2","s":"H","k":"l","t":45,"v":0.41},{"p":"c2","s":"H","k":"l","t":60,"v":0.35},{"p":"c2","s":"H","k":"l","t":75,"v":0.34},{"p":"c2","s":"H","k":"l","t":85,"v":0.17},{"p":"c2","s":"H","k":"l","t":105,"v":0.17},{"p":"c2","s":"H","k":"l","t":123,"v":0.17},
{"p":"c2","s":"L","k":"c","t":62,"v":0.53},{"p":"c2","s":"L","k":"c","t":67,"v":0.52},{"p":"c2","s":"L","k":"c","t":76,"v":0.46},{"p":"c2","s":"L","k":"c","t":80,"v":0.46},{"p":"c2","s":"L","k":"c","t":113,"v":0.23},
{"p":"c2","s":"H","k":"c","t":66,"v":0.43},{"p":"c2","s":"H","k":"c","t":72,"v":0.43},{"p":"c2","s":"H","k":"c","t":80,"v":0.43},{"p":"c2","s":"H","k":"c","t":92,"v":0.31},{"p":"c2","s":"H","k":"c","t":123,"v":0.31},
{"p":"c2","k":"txt","txt":"Logrank p = 0.00091\nHR(high) = 1.8\np(HR) = 0.0011\nn(high) = 181\nn(low) = 180"},
{"p":"c2","s":"L","k":"leg","txt":"Low GINS1 TPM"},{"p":"c2","s":"H","k":"leg","txt":"High GINS1 TPM"},

{"p":"c3","s":"L","k":"m","t":0,"v":1},{"p":"c3","s":"L","k":"m","t":3,"v":0.96},{"p":"c3","s":"L","k":"m","t":6,"v":0.94},{"p":"c3","s":"L","k":"m","t":10,"v":0.92},{"p":"c3","s":"L","k":"m","t":14,"v":0.89},{"p":"c3","s":"L","k":"m","t":18,"v":0.86},{"p":"c3","s":"L","k":"m","t":22,"v":0.83},{"p":"c3","s":"L","k":"m","t":26,"v":0.8},{"p":"c3","s":"L","k":"m","t":30,"v":0.77},{"p":"c3","s":"L","k":"m","t":35,"v":0.73},{"p":"c3","s":"L","k":"m","t":40,"v":0.7},{"p":"c3","s":"L","k":"m","t":45,"v":0.66},{"p":"c3","s":"L","k":"m","t":50,"v":0.62},{"p":"c3","s":"L","k":"m","t":55,"v":0.58},{"p":"c3","s":"L","k":"m","t":60,"v":0.53},{"p":"c3","s":"L","k":"m","t":65,"v":0.52},{"p":"c3","s":"L","k":"m","t":70,"v":0.47},{"p":"c3","s":"L","k":"m","t":80,"v":0.46},{"p":"c3","s":"L","k":"m","t":83,"v":0.4},{"p":"c3","s":"L","k":"m","t":109,"v":0.3},{"p":"c3","s":"L","k":"m","t":116,"v":0.3},
{"p":"c3","s":"H","k":"m","t":0,"v":1},{"p":"c3","s":"H","k":"m","t":2,"v":0.93},{"p":"c3","s":"H","k":"m","t":5,"v":0.86},{"p":"c3","s":"H","k":"m","t":8,"v":0.79},{"p":"c3","s":"H","k":"m","t":11,"v":0.73},{"p":"c3","s":"H","k":"m","t":14,"v":0.67},{"p":"c3","s":"H","k":"m","t":17,"v":0.62},{"p":"c3","s":"H","k":"m","t":20,"v":0.58},{"p":"c3","s":"H","k":"m","t":24,"v":0.54},{"p":"c3","s":"H","k":"m","t":28,"v":0.52},{"p":"c3","s":"H","k":"m","t":33,"v":0.5},{"p":"c3","s":"H","k":"m","t":38,"v":0.48},{"p":"c3","s":"H","k":"m","t":45,"v":0.47},{"p":"c3","s":"H","k":"m","t":50,"v":0.46},{"p":"c3","s":"H","k":"m","t":62,"v":0.44},{"p":"c3","s":"H","k":"m","t":82,"v":0.37},{"p":"c3","s":"H","k":"m","t":84,"v":0.3},{"p":"c3","s":"H","k":"m","t":86,"v":0.22},{"p":"c3","s":"H","k":"m","t":105,"v":0.11},{"p":"c3","s":"H","k":"m","t":123,"v":0.11},
{"p":"c3","s":"L","k":"u","t":0,"v":1},{"p":"c3","s":"L","k":"u","t":10,"v":0.96},{"p":"c3","s":"L","k":"u","t":20,"v":0.91},{"p":"c3","s":"L","k":"u","t":30,"v":0.84},{"p":"c3","s":"L","k":"u","t":45,"v":0.74},{"p":"c3","s":"L","k":"u","t":60,"v":0.62},{"p":"c3","s":"L","k":"u","t":75,"v":0.57},{"p":"c3","s":"L","k":"u","t":85,"v":0.56},{"p":"c3","s":"L","k":"u","t":105,"v":0.6},{"p":"c3","s":"L","k":"u","t":116,"v":0.6},
{"p":"c3","s":"L","k":"l","t":0,"v":1},{"p":"c3","s":"L","k":"l","t":10,"v":0.88},{"p":"c3","s":"L","k":"l","t":20,"v":0.8},{"p":"c3","s":"L","k":"l","t":30,"v":0.7},{"p":"c3","s":"L","k":"l","t":45,"v":0.58},{"p":"c3","s":"L","k":"l","t":60,"v":0.44},{"p":"c3","s":"L","k":"l","t":75,"v":0.38},{"p":"c3","s":"L","k":"l","t":85,"v":0.27},{"p":"c3","s":"L","k":"l","t":105,"v":0.22},{"p":"c3","s":"L","k":"l","t":116,"v":0.15},
{"p":"c3","s":"H","k":"u","t":0,"v":1},{"p":"c3","s":"H","k":"u","t":10,"v":0.79},{"p":"c3","s":"H","k":"u","t":20,"v":0.65},{"p":"c3","s":"H","k":"u","t":30,"v":0.59},{"p":"c3","s":"H","k":"u","t":45,"v":0.54},{"p":"c3","s":"H","k":"u","t":60,"v":0.54},{"p":"c3","s":"H","k":"u","t":75,"v":0.53},{"p":"c3","s":"H","k":"u","t":85,"v":0.4},{"p":"c3","s":"H","k":"u","t":105,"v":0.5},{"p":"c3","s":"H","k":"u","t":123,"v":0.5},
{"p":"c3","s":"H","k":"l","t":0,"v":1},{"p":"c3","s":"H","k":"l","t":10,"v":0.67},{"p":"c3","s":"H","k":"l","t":20,"v":0.51},{"p":"c3","s":"H","k":"l","t":30,"v":0.45},{"p":"c3","s":"H","k":"l","t":45,"v":0.4},{"p":"c3","s":"H","k":"l","t":60,"v":0.38},{"p":"c3","s":"H","k":"l","t":75,"v":0.35},{"p":"c3","s":"H","k":"l","t":85,"v":0.12},{"p":"c3","s":"H","k":"l","t":105,"v":0.03},{"p":"c3","s":"H","k":"l","t":123,"v":0.03},
{"p":"c3","s":"L","k":"c","t":72,"v":0.46},{"p":"c3","s":"L","k":"c","t":76,"v":0.46},{"p":"c3","s":"L","k":"c","t":80,"v":0.46},{"p":"c3","s":"L","k":"c","t":92,"v":0.4},{"p":"c3","s":"L","k":"c","t":113,"v":0.3},{"p":"c3","s":"L","k":"c","t":116,"v":0.3},
{"p":"c3","s":"H","k":"c","t":63,"v":0.44},{"p":"c3","s":"H","k":"c","t":70,"v":0.44},{"p":"c3","s":"H","k":"c","t":123,"v":0.11},
{"p":"c3","k":"txt","txt":"Logrank p = 0.00032\nHR(high) = 1.9\np(HR) = 0.00040\nn(high) = 182\nn(low) = 182"},
{"p":"c3","s":"L","k":"leg","txt":"Low MCM7 TPM"},{"p":"c3","s":"H","k":"leg","txt":"High MCM7 TPM"}
]},
"spacing":18,
"vconcat":[
{"data":{"name":"km"},"transform":[{"filter":{"field":"p","oneOf":["a1","a2","a3"]}}],
"title":{"text":"(a)"},
"facet":{"field":"p","type":"nominal","title":null,"header":{"labelExpr":"'Overall Survival'","labelFontSize":10,"labelPadding":3,"labelColor":"#111"}},
"columns":3,"spacing":{"column":11},
"resolve":{"axis":{"x":"independent","y":"independent"}},
"spec":{"width":140,"height":128,
"layer":[
{"transform":[{"filter":"datum.k=='u'||datum.k=='l'"}],"mark":{"type":"line","interpolate":"step-after","strokeWidth":0.7,"strokeDash":[1,1.5],"opacity":0.35},"encoding":{"x":{"field":"t","type":"quantitative","scale":{"domain":[-0.5,128.5],"nice":false},"axis":{"values":[0,20,40,60,80,100,120],"title":"Months","labelOverlap":false}},"y":{"field":"v","type":"quantitative","scale":{"domain":[-0.04,1.03],"nice":false},"axis":{"values":[0,0.2,0.4,0.6,0.8,1],"format":".1f","title":"Percent Survival","labelOverlap":false}},"color":{"field":"s","type":"nominal","scale":{"domain":["L","H"],"range":["#3a3ad2","#f42a3c"]},"legend":null},"detail":{"field":"k"}}},
{"transform":[{"filter":"datum.k=='m'"}],"mark":{"type":"line","interpolate":"step-after","strokeWidth":1.2},"encoding":{"x":{"field":"t","type":"quantitative","scale":{"domain":[-0.5,128.5],"nice":false},"axis":{"values":[0,20,40,60,80,100,120],"title":"Months","labelOverlap":false}},"y":{"field":"v","type":"quantitative","scale":{"domain":[-0.04,1.03],"nice":false},"axis":{"values":[0,0.2,0.4,0.6,0.8,1],"format":".1f","title":"Percent Survival","labelOverlap":false}},"color":{"field":"s","type":"nominal","scale":{"domain":["L","H"],"range":["#3a3ad2","#f42a3c"]},"legend":null}}},
{"transform":[{"filter":"datum.k=='c'"}],"mark":{"type":"tick","orient":"vertical","size":4,"thickness":0.8},"encoding":{"x":{"field":"t","type":"quantitative","scale":{"domain":[-0.5,128.5],"nice":false},"axis":{"values":[0,20,40,60,80,100,120],"title":"Months","labelOverlap":false}},"y":{"field":"v","type":"quantitative","scale":{"domain":[-0.04,1.03],"nice":false},"axis":{"values":[0,0.2,0.4,0.6,0.8,1],"format":".1f","title":"Percent Survival","labelOverlap":false}},"color":{"field":"s","type":"nominal","scale":{"domain":["L","H"],"range":["#3a3ad2","#f42a3c"]},"legend":null}}},
{"transform":[{"filter":"datum.k=='txt'"}],"mark":{"type":"text","align":"right","baseline":"top","fontSize":7.3,"lineHeight":7.9,"lineBreak":"\n","color":"#111"},"encoding":{"x":{"datum":126,"type":"quantitative","axis":{"values":[0,20,40,60,80,100,120],"title":"Months","labelOverlap":false}},"y":{"datum":1.025,"type":"quantitative","axis":{"values":[0,0.2,0.4,0.6,0.8,1],"format":".1f","title":"Percent Survival","labelOverlap":false}},"text":{"field":"txt"}}},
{"transform":[{"filter":"datum.k=='leg'&&datum.s=='L'"}],"mark":{"type":"rule","strokeWidth":1.1,"color":"#3a3ad2"},"encoding":{"x":{"datum":2.5,"type":"quantitative","axis":{"values":[0,20,40,60,80,100,120],"title":"Months","labelOverlap":false}},"x2":{"datum":11.5},"y":{"datum":0.083,"type":"quantitative","axis":{"values":[0,0.2,0.4,0.6,0.8,1],"format":".1f","title":"Percent Survival","labelOverlap":false}}}},
{"transform":[{"filter":"datum.k=='leg'&&datum.s=='H'"}],"mark":{"type":"rule","strokeWidth":1.1,"color":"#f42a3c"},"encoding":{"x":{"datum":2.5,"type":"quantitative","axis":{"values":[0,20,40,60,80,100,120],"title":"Months","labelOverlap":false}},"x2":{"datum":11.5},"y":{"datum":0.008,"type":"quantitative","axis":{"values":[0,0.2,0.4,0.6,0.8,1],"format":".1f","title":"Percent Survival","labelOverlap":false}}}},
{"transform":[{"filter":"datum.k=='leg'&&datum.s=='L'"}],"mark":{"type":"text","align":"left","baseline":"middle","fontSize":7.8,"color":"#111"},"encoding":{"x":{"datum":13.3,"type":"quantitative","axis":{"values":[0,20,40,60,80,100,120],"title":"Months","labelOverlap":false}},"y":{"datum":0.083,"type":"quantitative","axis":{"values":[0,0.2,0.4,0.6,0.8,1],"format":".1f","title":"Percent Survival","labelOverlap":false}},"text":{"field":"txt"}}},
{"transform":[{"filter":"datum.k=='leg'&&datum.s=='H'"}],"mark":{"type":"text","align":"left","baseline":"middle","fontSize":7.8,"color":"#111"},"encoding":{"x":{"datum":13.3,"type":"quantitative","axis":{"values":[0,20,40,60,80,100,120],"title":"Months","labelOverlap":false}},"y":{"datum":0.008,"type":"quantitative","axis":{"values":[0,0.2,0.4,0.6,0.8,1],"format":".1f","title":"Percent Survival","labelOverlap":false}},"text":{"field":"txt"}}}
]}},
{"data":{"name":"km"},"transform":[{"filter":{"field":"p","oneOf":["b1","b2","b3"]}}],
"title":{"text":"(b)"},
"facet":{"field":"p","type":"nominal","title":null,"header":{"labelExpr":"'Overall Survival'","labelFontSize":10,"labelPadding":3,"labelColor":"#111"}},
"columns":3,"spacing":{"column":11},
"resolve":{"axis":{"x":"independent","y":"independent"}},
"spec":{"width":140,"height":128,
"layer":[
{"transform":[{"filter":"datum.k=='u'||datum.k=='l'"}],"mark":{"type":"line","interpolate":"step-after","strokeWidth":0.7,"strokeDash":[1,1.5],"opacity":0.35},"encoding":{"x":{"field":"t","type":"quantitative","scale":{"domain":[-0.5,128.5],"nice":false},"axis":{"values":[0,20,40,60,80,100,120],"title":"Months","labelOverlap":false}},"y":{"field":"v","type":"quantitative","scale":{"domain":[-0.04,1.03],"nice":false},"axis":{"values":[0,0.2,0.4,0.6,0.8,1],"format":".1f","title":"Percent Survival","labelOverlap":false}},"color":{"field":"s","type":"nominal","scale":{"domain":["L","H"],"range":["#3a3ad2","#f42a3c"]},"legend":null},"detail":{"field":"k"}}},
{"transform":[{"filter":"datum.k=='m'"}],"mark":{"type":"line","interpolate":"step-after","strokeWidth":1.2},"encoding":{"x":{"field":"t","type":"quantitative","scale":{"domain":[-0.5,128.5],"nice":false},"axis":{"values":[0,20,40,60,80,100,120],"title":"Months","labelOverlap":false}},"y":{"field":"v","type":"quantitative","scale":{"domain":[-0.04,1.03],"nice":false},"axis":{"values":[0,0.2,0.4,0.6,0.8,1],"format":".1f","title":"Percent Survival","labelOverlap":false}},"color":{"field":"s","type":"nominal","scale":{"domain":["L","H"],"range":["#3a3ad2","#f42a3c"]},"legend":null}}},
{"transform":[{"filter":"datum.k=='c'"}],"mark":{"type":"tick","orient":"vertical","size":4,"thickness":0.8},"encoding":{"x":{"field":"t","type":"quantitative","scale":{"domain":[-0.5,128.5],"nice":false},"axis":{"values":[0,20,40,60,80,100,120],"title":"Months","labelOverlap":false}},"y":{"field":"v","type":"quantitative","scale":{"domain":[-0.04,1.03],"nice":false},"axis":{"values":[0,0.2,0.4,0.6,0.8,1],"format":".1f","title":"Percent Survival","labelOverlap":false}},"color":{"field":"s","type":"nominal","scale":{"domain":["L","H"],"range":["#3a3ad2","#f42a3c"]},"legend":null}}},
{"transform":[{"filter":"datum.k=='txt'"}],"mark":{"type":"text","align":"right","baseline":"top","fontSize":7.3,"lineHeight":7.9,"lineBreak":"\n","color":"#111"},"encoding":{"x":{"datum":126,"type":"quantitative","axis":{"values":[0,20,40,60,80,100,120],"title":"Months","labelOverlap":false}},"y":{"datum":1.025,"type":"quantitative","axis":{"values":[0,0.2,0.4,0.6,0.8,1],"format":".1f","title":"Percent Survival","labelOverlap":false}},"text":{"field":"txt"}}},
{"transform":[{"filter":"datum.k=='leg'&&datum.s=='L'"}],"mark":{"type":"rule","strokeWidth":1.1,"color":"#3a3ad2"},"encoding":{"x":{"datum":2.5,"type":"quantitative","axis":{"values":[0,20,40,60,80,100,120],"title":"Months","labelOverlap":false}},"x2":{"datum":11.5},"y":{"datum":0.083,"type":"quantitative","axis":{"values":[0,0.2,0.4,0.6,0.8,1],"format":".1f","title":"Percent Survival","labelOverlap":false}}}},
{"transform":[{"filter":"datum.k=='leg'&&datum.s=='H'"}],"mark":{"type":"rule","strokeWidth":1.1,"color":"#f42a3c"},"encoding":{"x":{"datum":2.5,"type":"quantitative","axis":{"values":[0,20,40,60,80,100,120],"title":"Months","labelOverlap":false}},"x2":{"datum":11.5},"y":{"datum":0.008,"type":"quantitative","axis":{"values":[0,0.2,0.4,0.6,0.8,1],"format":".1f","title":"Percent Survival","labelOverlap":false}}}},
{"transform":[{"filter":"datum.k=='leg'&&datum.s=='L'"}],"mark":{"type":"text","align":"left","baseline":"middle","fontSize":7.8,"color":"#111"},"encoding":{"x":{"datum":13.3,"type":"quantitative","axis":{"values":[0,20,40,60,80,100,120],"title":"Months","labelOverlap":false}},"y":{"datum":0.083,"type":"quantitative","axis":{"values":[0,0.2,0.4,0.6,0.8,1],"format":".1f","title":"Percent Survival","labelOverlap":false}},"text":{"field":"txt"}}},
{"transform":[{"filter":"datum.k=='leg'&&datum.s=='H'"}],"mark":{"type":"text","align":"left","baseline":"middle","fontSize":7.8,"color":"#111"},"encoding":{"x":{"datum":13.3,"type":"quantitative","axis":{"values":[0,20,40,60,80,100,120],"title":"Months","labelOverlap":false}},"y":{"datum":0.008,"type":"quantitative","axis":{"values":[0,0.2,0.4,0.6,0.8,1],"format":".1f","title":"Percent Survival","labelOverlap":false}},"text":{"field":"txt"}}}
]}},
{"data":{"name":"km"},"transform":[{"filter":{"field":"p","oneOf":["c1","c2","c3"]}}],
"title":{"text":"(c)"},
"facet":{"field":"p","type":"nominal","title":null,"header":{"labelExpr":"'Overall Survival'","labelFontSize":10,"labelPadding":3,"labelColor":"#111"}},
"columns":3,"spacing":{"column":11},
"resolve":{"axis":{"x":"independent","y":"independent"}},
"spec":{"width":140,"height":128,
"layer":[
{"transform":[{"filter":"datum.k=='u'||datum.k=='l'"}],"mark":{"type":"line","interpolate":"step-after","strokeWidth":0.7,"strokeDash":[1,1.5],"opacity":0.35},"encoding":{"x":{"field":"t","type":"quantitative","scale":{"domain":[-0.5,128.5],"nice":false},"axis":{"values":[0,20,40,60,80,100,120],"title":"Months","labelOverlap":false}},"y":{"field":"v","type":"quantitative","scale":{"domain":[-0.04,1.03],"nice":false},"axis":{"values":[0,0.2,0.4,0.6,0.8,1],"format":".1f","title":"Percent Survival","labelOverlap":false}},"color":{"field":"s","type":"nominal","scale":{"domain":["L","H"],"range":["#3a3ad2","#f42a3c"]},"legend":null},"detail":{"field":"k"}}},
{"transform":[{"filter":"datum.k=='m'"}],"mark":{"type":"line","interpolate":"step-after","strokeWidth":1.2},"encoding":{"x":{"field":"t","type":"quantitative","scale":{"domain":[-0.5,128.5],"nice":false},"axis":{"values":[0,20,40,60,80,100,120],"title":"Months","labelOverlap":false}},"y":{"field":"v","type":"quantitative","scale":{"domain":[-0.04,1.03],"nice":false},"axis":{"values":[0,0.2,0.4,0.6,0.8,1],"format":".1f","title":"Percent Survival","labelOverlap":false}},"color":{"field":"s","type":"nominal","scale":{"domain":["L","H"],"range":["#3a3ad2","#f42a3c"]},"legend":null}}},
{"transform":[{"filter":"datum.k=='c'"}],"mark":{"type":"tick","orient":"vertical","size":4,"thickness":0.8},"encoding":{"x":{"field":"t","type":"quantitative","scale":{"domain":[-0.5,128.5],"nice":false},"axis":{"values":[0,20,40,60,80,100,120],"title":"Months","labelOverlap":false}},"y":{"field":"v","type":"quantitative","scale":{"domain":[-0.04,1.03],"nice":false},"axis":{"values":[0,0.2,0.4,0.6,0.8,1],"format":".1f","title":"Percent Survival","labelOverlap":false}},"color":{"field":"s","type":"nominal","scale":{"domain":["L","H"],"range":["#3a3ad2","#f42a3c"]},"legend":null}}},
{"transform":[{"filter":"datum.k=='txt'"}],"mark":{"type":"text","align":"right","baseline":"top","fontSize":7.3,"lineHeight":7.9,"lineBreak":"\n","color":"#111"},"encoding":{"x":{"datum":126,"type":"quantitative","axis":{"values":[0,20,40,60,80,100,120],"title":"Months","labelOverlap":false}},"y":{"datum":1.025,"type":"quantitative","axis":{"values":[0,0.2,0.4,0.6,0.8,1],"format":".1f","title":"Percent Survival","labelOverlap":false}},"text":{"field":"txt"}}},
{"transform":[{"filter":"datum.k=='leg'&&datum.s=='L'"}],"mark":{"type":"rule","strokeWidth":1.1,"color":"#3a3ad2"},"encoding":{"x":{"datum":2.5,"type":"quantitative","axis":{"values":[0,20,40,60,80,100,120],"title":"Months","labelOverlap":false}},"x2":{"datum":11.5},"y":{"datum":0.083,"type":"quantitative","axis":{"values":[0,0.2,0.4,0.6,0.8,1],"format":".1f","title":"Percent Survival","labelOverlap":false}}}},
{"transform":[{"filter":"datum.k=='leg'&&datum.s=='H'"}],"mark":{"type":"rule","strokeWidth":1.1,"color":"#f42a3c"},"encoding":{"x":{"datum":2.5,"type":"quantitative","axis":{"values":[0,20,40,60,80,100,120],"title":"Months","labelOverlap":false}},"x2":{"datum":11.5},"y":{"datum":0.008,"type":"quantitative","axis":{"values":[0,0.2,0.4,0.6,0.8,1],"format":".1f","title":"Percent Survival","labelOverlap":false}}}},
{"transform":[{"filter":"datum.k=='leg'&&datum.s=='L'"}],"mark":{"type":"text","align":"left","baseline":"middle","fontSize":7.8,"color":"#111"},"encoding":{"x":{"datum":13.3,"type":"quantitative","axis":{"values":[0,20,40,60,80,100,120],"title":"Months","labelOverlap":false}},"y":{"datum":0.083,"type":"quantitative","axis":{"values":[0,0.2,0.4,0.6,0.8,1],"format":".1f","title":"Percent Survival","labelOverlap":false}},"text":{"field":"txt"}}},
{"transform":[{"filter":"datum.k=='leg'&&datum.s=='H'"}],"mark":{"type":"text","align":"left","baseline":"middle","fontSize":7.8,"color":"#111"},"encoding":{"x":{"datum":13.3,"type":"quantitative","axis":{"values":[0,20,40,60,80,100,120],"title":"Months","labelOverlap":false}},"y":{"datum":0.008,"type":"quantitative","axis":{"values":[0,0.2,0.4,0.6,0.8,1],"format":".1f","title":"Percent Survival","labelOverlap":false}},"text":{"field":"txt"}}}
]}}
]
}
